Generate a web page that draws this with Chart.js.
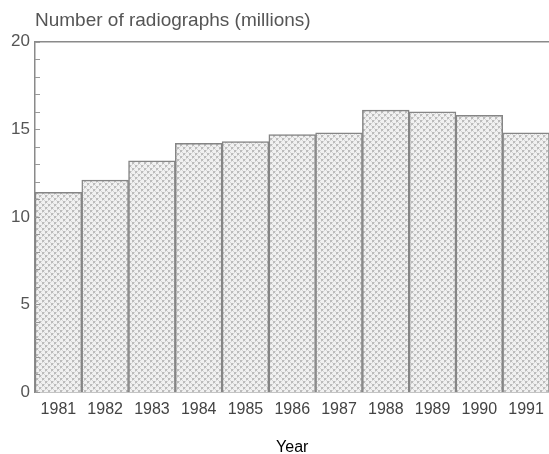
<!DOCTYPE html>
<html>
<head>
<meta charset="utf-8">
<script src="https://cdn.jsdelivr.net/npm/chart.js@4"></script>
<style>
  html, body { margin: 0; padding: 0; background: #fff; overflow: hidden; }
  #wrap { width: 552px; height: 454px; position: relative; }
</style>
</head>
<body>
<div id="wrap"><canvas id="c"></canvas></div>
<script>
const years = ["1981","1982","1983","1984","1985","1986","1987","1988","1989","1990","1991"];
const radiographs = [11.4, 12.1, 13.2, 14.2, 14.3, 14.7, 14.8, 16.1, 16.0, 15.8, 14.8];
const yMajorTicks = [0, 5, 10, 15, 20];
const yAxisMax = 20;
const titleText = "Number of radiographs (millions)";
const xTitleText = "Year";

// cross-hatch fill pattern
function makePattern() {
  const p = document.createElement('canvas');
  p.width = 6; p.height = 6;
  const g = p.getContext('2d');
  g.fillStyle = '#f1f1f1';
  g.fillRect(0, 0, 6, 6);
  g.fillStyle = '#bcbcbc';
  g.fillRect(0, 0, 2, 2);
  g.fillRect(3, 3, 2, 2);
  g.fillStyle = '#d6d6d6';
  g.fillRect(2, 0, 1, 1);
  g.fillRect(0, 2, 1, 1);
  g.fillRect(5, 3, 1, 1);
  g.fillRect(3, 5, 1, 1);
  g.fillRect(2, 2, 1, 1);
  g.fillRect(5, 5, 1, 1);
  return g.createPattern(p, 'repeat');
}
const hatch = makePattern();

const frame = {
  id: 'frame',
  afterDatasetsDraw(chart) {
    const {ctx, chartArea} = chart;
    const ys = chart.scales.y;
    ctx.save();
    ctx.strokeStyle = '#8a8a8a';
    ctx.lineWidth = 1.5;
    ctx.beginPath();
    ctx.moveTo(chartArea.left, chartArea.top);
    ctx.lineTo(chartArea.right, chartArea.top);
    ctx.stroke();
    ctx.lineWidth = 1;
    ctx.strokeStyle = '#999';
    for (let v = 0; v <= yAxisMax; v++) {
      const py = Math.round(ys.getPixelForValue(v)) + 0.5;
      ctx.beginPath();
      ctx.moveTo(chartArea.left, py);
      ctx.lineTo(chartArea.left + 5, py);
      ctx.stroke();
    }
    ctx.restore();
  }
};

new Chart(document.getElementById('c'), {
  type: 'bar',
  data: {
    labels: years,
    datasets: [{
      data: radiographs,
      backgroundColor: hatch,
      borderColor: '#858585',
      borderWidth: 1.5,
      barPercentage: 1,
      categoryPercentage: 1
    }]
  },
  options: {
    responsive: true,
    maintainAspectRatio: false,
    animation: false,
    devicePixelRatio: 1,
    layout: { padding: 0 },
    plugins: {
      legend: { display: false },
      tooltip: { enabled: false },
      title: {
        display: true,
        text: titleText,
        align: 'start',
        fullSize: false,
        color: '#555',
        font: { family: 'Liberation Sans, Arial, sans-serif', size: 19, weight: 'normal', lineHeight: 1.2 },
        padding: { top: 9, bottom: 10 }
      }
    },
    scales: {
      x: {
        grid: { display: false, drawTicks: false },
        border: { display: true, color: '#8a8a8a', width: 1.5 },
        ticks: {
          color: '#444',
          font: { family: 'Liberation Sans, Arial, sans-serif', size: 16 },
          padding: 8,
          maxRotation: 0,
          autoSkip: false
        },
        title: {
          display: true,
          text: xTitleText,
          color: '#000',
          font: { family: 'Liberation Sans, Arial, sans-serif', size: 16 },
          padding: { top: 0, bottom: -3 }
        },
        afterFit(scale) { scale.height = 62; }
      },
      y: {
        min: 0,
        max: yAxisMax,
        grid: { display: false, drawTicks: false },
        border: { display: true, color: '#8a8a8a', width: 1.5 },
        afterBuildTicks(scale) { scale.ticks = yMajorTicks.map(v => ({ value: v })); },
        ticks: {
          color: '#555',
          font: { family: 'Liberation Sans, Arial, sans-serif', size: 17 },
          padding: 5
        },
        afterFit(scale) { scale.width = 35; }
      }
    }
  },
  plugins: [frame]
});
</script>
</body>
</html>
